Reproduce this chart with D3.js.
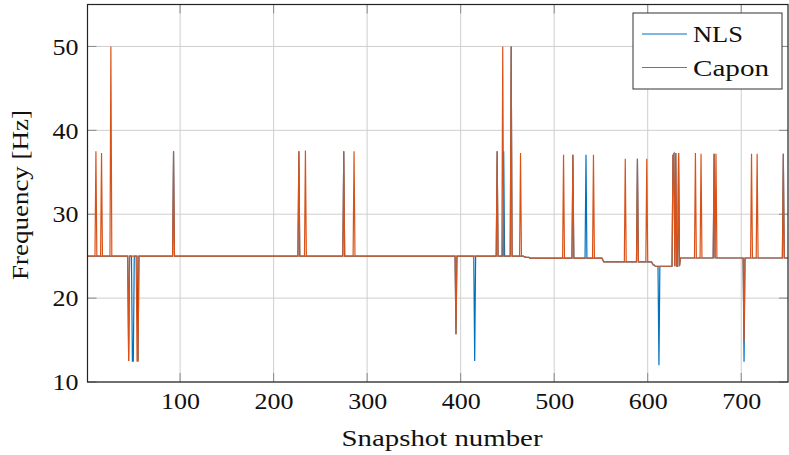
<!DOCTYPE html>
<html>
<head>
<meta charset="utf-8">
<script src="https://cdn.jsdelivr.net/npm/d3@7"></script>
<style>
  html, body { margin: 0; padding: 0; background: #fff; }
  svg { display: block; }
  svg text { font-family: Liberation Serif, DejaVu Serif, serif; }
</style>
</head>
<body>
<svg id="chart" width="789" height="455"></svg>
<script>
// ---- Data ----
const seriesNames = ["NLS", "Capon"];
const seriesColors = ["#0072BD", "#D95319"];
const snapshotRange = [1, 750];
const xTicks = [100, 200, 300, 400, 500, 600, 700];
const yTicks = [10, 20, 30, 40, 50];
const yRange = [10, 55];

// Baseline frequency (step: value holds from each knot snapshot onward)
const baseKnotX = [1, 466, 468, 470, 474, 551, 552, 553, 604, 605, 606, 608, 626, 635];
const baseKnotY = [25.0, 25.0, 24.92, 24.85, 24.76, 24.76, 24.55, 24.32, 24.32, 24.15, 23.95, 23.8, 23.8, 24.78];

// Capon outliers (snapshot, frequency)
const caponEventX = [10, 16, 26, 45, 54, 55, 93, 227, 234, 275, 286, 395, 439, 445, 454, 464,
                     510, 520, 542, 576, 589, 599, 627, 628, 630, 633, 651, 657, 671, 673, 703, 711, 717, 745];
const caponEventY = [37.5, 37.3, 50.0, 12.5, 12.5, 12.5, 37.5, 37.5, 37.6, 37.5, 37.5, 15.7, 37.5, 50.0, 50.0, 37.3,
                     37.1, 37.1, 37.1, 36.6, 36.6, 36.6, 37.0, 37.2, 37.3, 37.3, 37.3, 37.2, 37.2, 37.2, 14.8, 37.2, 37.2, 37.2];

// NLS outliers (snapshot, frequency)
const nlsEventX = [45, 49, 50, 55, 93, 227, 275, 395, 415, 439, 446, 454, 520, 534, 589, 612,
                   627, 628, 630, 633, 671, 703, 745];
const nlsEventY = [12.5, 12.5, 12.5, 12.5, 37.5, 37.5, 37.5, 15.7, 12.5, 37.5, 37.5, 50.0, 37.1, 37.1, 36.6, 12.0,
                   37.0, 37.2, 37.3, 37.3, 37.2, 12.4, 37.2];

// ---- Build series ----
function baseAt(s) {
  let v = baseKnotY[0];
  for (let i = 0; i < baseKnotX.length; i++) if (baseKnotX[i] <= s) v = baseKnotY[i];
  return v;
}
function buildSeries(ex, ey) {
  const m = new Map(ex.map((x, i) => [x, ey[i]]));
  return d3.range(snapshotRange[0], snapshotRange[1] + 1).map(s => ({ x: s, y: m.has(s) ? m.get(s) : baseAt(s) }));
}
const series = [buildSeries(nlsEventX, nlsEventY), buildSeries(caponEventX, caponEventY)];

// ---- Layout ----
const FONT = "Liberation Serif, DejaVu Serif, serif";
const svg = d3.select("#chart");
const L = 87.5, R = 788, T = 4.5, B = 382;
const x = d3.scaleLinear().domain(snapshotRange).range([L, R]);
const y = d3.scaleLinear().domain(yRange).range([B, T]);

function styleText(sel, len) {
  sel.style("font-family", FONT).attr("font-size", 24).attr("fill", "#111");
  if (len) sel.attr("textLength", len).attr("lengthAdjust", "spacingAndGlyphs");
  return sel;
}

// grid
const grid = svg.append("g").attr("stroke", "#cfcfcf").attr("stroke-width", 1);
xTicks.forEach(t => grid.append("line").attr("x1", x(t)).attr("x2", x(t)).attr("y1", T).attr("y2", B));
yTicks.forEach(t => grid.append("line").attr("x1", L).attr("x2", R).attr("y1", y(t)).attr("y2", y(t)));

// tick marks on all four sides (inward)
const tl = 9;
const tk = svg.append("g").attr("stroke", "#8a8a8a").attr("stroke-width", 1);
xTicks.forEach(t => {
  tk.append("line").attr("x1", x(t)).attr("x2", x(t)).attr("y1", B).attr("y2", B - tl);
  tk.append("line").attr("x1", x(t)).attr("x2", x(t)).attr("y1", T).attr("y2", T + tl);
});
yTicks.forEach(t => {
  tk.append("line").attr("x1", L).attr("x2", L + tl).attr("y1", y(t)).attr("y2", y(t));
  tk.append("line").attr("x1", R).attr("x2", R - tl).attr("y1", y(t)).attr("y2", y(t));
});

// lines
const line = d3.line().x(d => x(d.x)).y(d => y(d.y));
svg.append("clipPath").attr("id", "clip").append("rect")
  .attr("x", L).attr("y", T).attr("width", R - L).attr("height", B - T);
series.forEach((s, i) => {
  svg.append("path").datum(s)
    .attr("d", line)
    .attr("fill", "none")
    .attr("stroke", seriesColors[i])
    .attr("stroke-width", 1.2)
    .attr("stroke-linejoin", "miter")
    .attr("clip-path", "url(#clip)");
});

// axes via d3 (labels only)
const xAxis = d3.axisBottom(x).tickValues(xTicks).tickSize(0).tickPadding(10).tickFormat(d3.format("d"));
const gx = svg.append("g").attr("transform", `translate(0,${B})`).call(xAxis);
gx.attr("font-family", null);
gx.select(".domain").remove();
gx.selectAll("text").each(function(d) {
  styleText(d3.select(this), String(d).length * 13).attr("dy", "0.71em");
});

const yAxis = d3.axisLeft(y).tickValues(yTicks).tickSize(0).tickPadding(9).tickFormat(d3.format("d"));
const gy = svg.append("g").attr("transform", `translate(${L},0)`).call(yAxis);
gy.attr("font-family", null);
gy.select(".domain").remove();
gy.selectAll("text").each(function(d) {
  styleText(d3.select(this), String(d).length * 13);
});

// frame
svg.append("rect").attr("x", L).attr("y", T).attr("width", R - L).attr("height", B - T)
  .attr("fill", "none").attr("stroke", "#222").attr("stroke-width", 1.2);

// axis titles
styleText(svg.append("text").attr("x", 442).attr("y", 446).attr("text-anchor", "middle"), 201)
  .text("Snapshot number");
styleText(svg.append("text").attr("transform", `translate(28,195) rotate(-90)`).attr("text-anchor", "middle"), 170)
  .text("Frequency [Hz]");

// legend
const lg = svg.append("g");
lg.append("rect").attr("x", 633).attr("y", 13).attr("width", 149).attr("height", 76)
  .attr("fill", "#fff").attr("stroke", "#333").attr("stroke-width", 1);
const legendLens = [50, 76];
seriesNames.forEach((n, i) => {
  const yy = 34 + i * 33.5;
  lg.append("line").attr("x1", 642).attr("x2", 687).attr("y1", yy).attr("y2", yy)
    .attr("stroke", seriesColors[i]).attr("stroke-width", 1.2);
  styleText(lg.append("text").attr("x", 693).attr("y", yy).attr("dy", "0.35em"), legendLens[i]).text(n);
});
</script>
</body>
</html>
